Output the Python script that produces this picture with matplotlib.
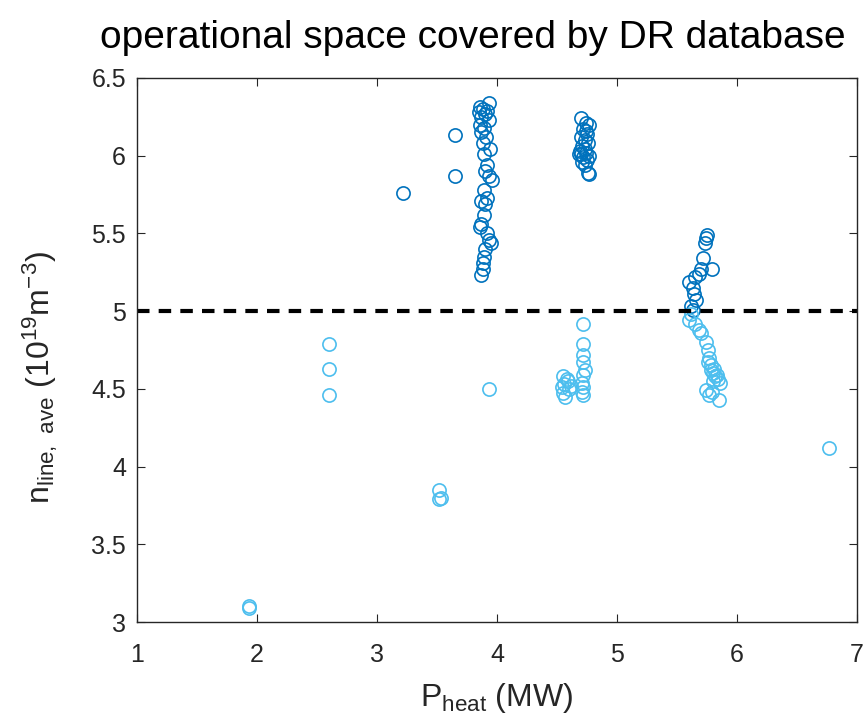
import numpy as np
import matplotlib.pyplot as plt
from matplotlib import font_manager

# high density shots (above threshold)
hi_p = [3.22, 3.65, 3.65,
        3.93, 3.86, 3.88, 3.92, 3.85, 3.90, 3.87, 3.93, 3.86, 3.89, 3.87, 3.91,
        3.88, 3.94, 3.89, 3.92, 3.90, 3.93, 3.96, 3.89, 3.92, 3.87, 3.90, 3.89,
        3.87, 3.86, 3.92, 3.93, 3.95, 3.90, 3.89, 3.88, 3.88, 3.87,
        4.70, 4.74, 4.77, 4.72, 4.75, 4.70, 4.73, 4.76, 4.71, 4.69, 4.74, 4.70,
        4.77, 4.72, 4.68, 4.75, 4.71, 4.73, 4.76, 4.77, 4.73, 4.74,
        5.60, 5.63, 5.64, 5.66, 5.62, 5.65, 5.68, 5.70, 5.72, 5.73, 5.74, 5.75,
        5.79, 5.63]
hi_n = [5.76, 5.87, 6.13,
        6.34, 6.31, 6.30, 6.29, 6.28, 6.27, 6.25, 6.23, 6.20, 6.18, 6.15, 6.12,
        6.08, 6.04, 6.01, 5.94, 5.90, 5.87, 5.84, 5.78, 5.73, 5.71, 5.69, 5.62,
        5.56, 5.54, 5.50, 5.46, 5.44, 5.40, 5.35, 5.31, 5.27, 5.23,
        6.24, 6.21, 6.20, 6.17, 6.14, 6.12, 6.10, 6.08, 6.06, 6.03, 6.02, 6.01,
        6.00, 5.99, 6.01, 5.97, 5.96, 5.94, 5.89, 5.88, 6.04, 6.16,
        5.19, 5.15, 5.11, 5.07, 5.03, 5.22, 5.24, 5.27, 5.34, 5.44, 5.47, 5.49,
        5.27, 5.01]

# low density shots (below threshold)
lo_p = [1.93, 1.93, 2.60, 2.60, 2.60, 3.52, 3.52, 3.53, 3.93, 6.77,
        4.55, 4.58, 4.56, 4.60, 4.55, 4.57, 4.62, 4.59, 4.54,
        4.72, 4.72, 4.72, 4.72, 4.73, 4.72, 4.71, 4.72, 4.71, 4.72,
        5.62, 5.60, 5.65, 5.68, 5.70, 5.74, 5.76, 5.77, 5.76, 5.78, 5.78,
        5.80, 5.82, 5.84, 5.86, 5.80, 5.74, 5.77, 5.79, 5.85, 5.83, 5.81]
lo_n = [3.10, 3.09, 4.79, 4.63, 4.46, 3.85, 3.79, 3.80, 4.50, 4.12,
        4.58, 4.56, 4.53, 4.50, 4.47, 4.45, 4.52, 4.55, 4.51,
        4.92, 4.79, 4.72, 4.67, 4.62, 4.59, 4.54, 4.51, 4.48, 4.46,
        4.98, 4.94, 4.92, 4.88, 4.86, 4.80, 4.75, 4.70, 4.67, 4.65, 4.62,
        4.60, 4.58, 4.56, 4.54, 4.55, 4.49, 4.46, 4.48, 4.43, 4.59, 4.63]

threshold = 5.0

names = {f.name for f in font_manager.fontManager.ttflist}
narrow = 'Liberation Sans Narrow' if 'Liberation Sans Narrow' in names else 'Liberation Sans'
plt.rcParams['font.family'] = ['Liberation Sans', 'DejaVu Sans']
plt.rcParams['mathtext.fontset'] = 'custom'
plt.rcParams['mathtext.rm'] = 'Liberation Sans'

fig = plt.figure(figsize=(8.64, 7.28), dpi=100)
ax = fig.add_axes([0.1586, 0.1456, 0.8333, 0.7474])

ax.plot(hi_p, hi_n, 'o', mfc='none', mec='#0072BD', ms=9.5, mew=1.2)
ax.plot(lo_p, lo_n, 'o', mfc='none', mec='#4DBEEE', ms=9.5, mew=1.2)
ax.axhline(threshold, color='black', linestyle='--', linewidth=3, dashes=(3, 2.2))

ax.set_xlim(1, 7)
ax.set_ylim(3, 6.5)
ax.set_xticks(np.arange(1, 8))
ax.set_yticks([3, 3.5, 4, 4.5, 5, 5.5, 6, 6.5])
ax.set_yticklabels(['3', '3.5', '4', '4.5', '5', '5.5', '6', '6.5'])
ax.tick_params(direction='in', length=6, width=0.8, labelsize=18, colors='#262626',
               top=True, right=True)
ax.tick_params(axis='x', pad=15)
ax.tick_params(axis='y', pad=8)
for s in ax.spines.values():
    s.set_color('#262626')
    s.set_linewidth(1.0)

ax.set_xlabel(r'$\mathregular{P_{heat}}$ (MW)', fontsize=23, color='#262626', labelpad=10)
ax.set_ylabel(r'$\mathregular{n_{line,\ ave}}$ $\mathregular{(10^{19}m^{-3})}$', fontsize=23,
              color='#262626')
ax.yaxis.set_label_coords(-0.107, 0.45)
fig.text(473 / 864, 1 - 48 / 728, 'operational space covered by DR database',
         fontsize=28, family=narrow, ha='center', va='baseline')

plt.savefig('out.png', dpi=100)
